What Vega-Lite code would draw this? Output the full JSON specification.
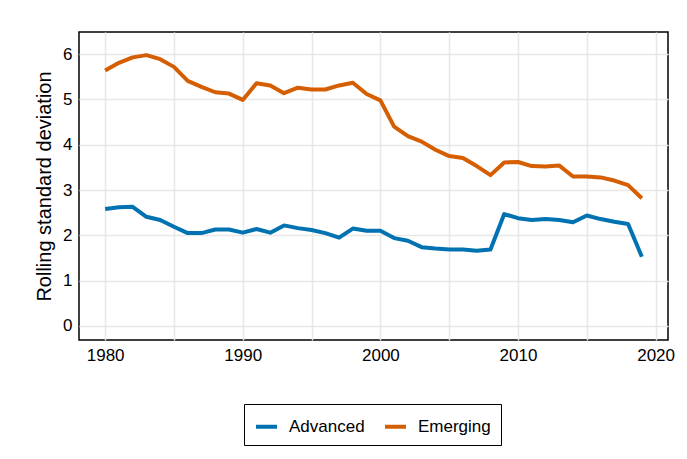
{
  "$schema": "https://vega.github.io/schema/vega-lite/v6.json",
  "autosize": "none",
  "width": 589,
  "height": 308,
  "padding": {"left": 79, "top": 32, "right": 19, "bottom": 119},
  "background": "white",
  "config": {
    "font": "Liberation Sans",
    "view": {"stroke": "black", "strokeWidth": 1.5}
  },
  "data": {
    "values": [
      {"year": 1980, "group": "Advanced", "sd": 2.58},
      {"year": 1981, "group": "Advanced", "sd": 2.62},
      {"year": 1982, "group": "Advanced", "sd": 2.63},
      {"year": 1983, "group": "Advanced", "sd": 2.41},
      {"year": 1984, "group": "Advanced", "sd": 2.34},
      {"year": 1985, "group": "Advanced", "sd": 2.19},
      {"year": 1986, "group": "Advanced", "sd": 2.05},
      {"year": 1987, "group": "Advanced", "sd": 2.05},
      {"year": 1988, "group": "Advanced", "sd": 2.13},
      {"year": 1989, "group": "Advanced", "sd": 2.13},
      {"year": 1990, "group": "Advanced", "sd": 2.06},
      {"year": 1991, "group": "Advanced", "sd": 2.14},
      {"year": 1992, "group": "Advanced", "sd": 2.06},
      {"year": 1993, "group": "Advanced", "sd": 2.22},
      {"year": 1994, "group": "Advanced", "sd": 2.16},
      {"year": 1995, "group": "Advanced", "sd": 2.12},
      {"year": 1996, "group": "Advanced", "sd": 2.05},
      {"year": 1997, "group": "Advanced", "sd": 1.95},
      {"year": 1998, "group": "Advanced", "sd": 2.15},
      {"year": 1999, "group": "Advanced", "sd": 2.10},
      {"year": 2000, "group": "Advanced", "sd": 2.10},
      {"year": 2001, "group": "Advanced", "sd": 1.94},
      {"year": 2002, "group": "Advanced", "sd": 1.88},
      {"year": 2003, "group": "Advanced", "sd": 1.74},
      {"year": 2004, "group": "Advanced", "sd": 1.71},
      {"year": 2005, "group": "Advanced", "sd": 1.69},
      {"year": 2006, "group": "Advanced", "sd": 1.69},
      {"year": 2007, "group": "Advanced", "sd": 1.66},
      {"year": 2008, "group": "Advanced", "sd": 1.69},
      {"year": 2009, "group": "Advanced", "sd": 2.47},
      {"year": 2010, "group": "Advanced", "sd": 2.38},
      {"year": 2011, "group": "Advanced", "sd": 2.34},
      {"year": 2012, "group": "Advanced", "sd": 2.36},
      {"year": 2013, "group": "Advanced", "sd": 2.34},
      {"year": 2014, "group": "Advanced", "sd": 2.29},
      {"year": 2015, "group": "Advanced", "sd": 2.44},
      {"year": 2016, "group": "Advanced", "sd": 2.36},
      {"year": 2017, "group": "Advanced", "sd": 2.30},
      {"year": 2018, "group": "Advanced", "sd": 2.25},
      {"year": 2019, "group": "Advanced", "sd": 1.53},
      {"year": 1980, "group": "Emerging", "sd": 5.64},
      {"year": 1981, "group": "Emerging", "sd": 5.81},
      {"year": 1982, "group": "Emerging", "sd": 5.93},
      {"year": 1983, "group": "Emerging", "sd": 5.98},
      {"year": 1984, "group": "Emerging", "sd": 5.89},
      {"year": 1985, "group": "Emerging", "sd": 5.72},
      {"year": 1986, "group": "Emerging", "sd": 5.41},
      {"year": 1987, "group": "Emerging", "sd": 5.28},
      {"year": 1988, "group": "Emerging", "sd": 5.16},
      {"year": 1989, "group": "Emerging", "sd": 5.13},
      {"year": 1990, "group": "Emerging", "sd": 4.99},
      {"year": 1991, "group": "Emerging", "sd": 5.36},
      {"year": 1992, "group": "Emerging", "sd": 5.31},
      {"year": 1993, "group": "Emerging", "sd": 5.14},
      {"year": 1994, "group": "Emerging", "sd": 5.26},
      {"year": 1995, "group": "Emerging", "sd": 5.22},
      {"year": 1996, "group": "Emerging", "sd": 5.22},
      {"year": 1997, "group": "Emerging", "sd": 5.31},
      {"year": 1998, "group": "Emerging", "sd": 5.37},
      {"year": 1999, "group": "Emerging", "sd": 5.12},
      {"year": 2000, "group": "Emerging", "sd": 4.98},
      {"year": 2001, "group": "Emerging", "sd": 4.40},
      {"year": 2002, "group": "Emerging", "sd": 4.19},
      {"year": 2003, "group": "Emerging", "sd": 4.07},
      {"year": 2004, "group": "Emerging", "sd": 3.89},
      {"year": 2005, "group": "Emerging", "sd": 3.75},
      {"year": 2006, "group": "Emerging", "sd": 3.71},
      {"year": 2007, "group": "Emerging", "sd": 3.53},
      {"year": 2008, "group": "Emerging", "sd": 3.33},
      {"year": 2009, "group": "Emerging", "sd": 3.61},
      {"year": 2010, "group": "Emerging", "sd": 3.62},
      {"year": 2011, "group": "Emerging", "sd": 3.53},
      {"year": 2012, "group": "Emerging", "sd": 3.52},
      {"year": 2013, "group": "Emerging", "sd": 3.54},
      {"year": 2014, "group": "Emerging", "sd": 3.30},
      {"year": 2015, "group": "Emerging", "sd": 3.30},
      {"year": 2016, "group": "Emerging", "sd": 3.28},
      {"year": 2017, "group": "Emerging", "sd": 3.21},
      {"year": 2018, "group": "Emerging", "sd": 3.11},
      {"year": 2019, "group": "Emerging", "sd": 2.82}
    ]
  },
  "mark": {"type": "line", "strokeWidth": 4, "strokeJoin": "round"},
  "encoding": {
    "x": {
      "field": "year",
      "type": "quantitative",
      "scale": {"domain": [1978.1, 2020.9], "nice": false, "zero": false},
      "axis": {
        "values": [1980, 1985, 1990, 1995, 2000, 2005, 2010, 2015, 2020],
        "labelExpr": "floor(datum.value / 10) * 10 == datum.value ? datum.label : ''",
        "format": "d",
        "title": null,
        "ticks": false,
        "domain": false,
        "labelFontSize": 17,
        "labelColor": "black",
        "labelPadding": 7,
        "grid": true,
        "gridColor": "#e8e8e8",
        "gridWidth": 1.5
      }
    },
    "y": {
      "field": "sd",
      "type": "quantitative",
      "scale": {"domain": [-0.31, 6.49], "nice": false, "zero": false},
      "axis": {
        "values": [0, 0.5, 1, 1.5, 2, 2.5, 3, 3.5, 4, 4.5, 5, 5.5, 6],
        "labelExpr": "floor(datum.value) == datum.value ? datum.label : ''",
        "format": "d",
        "title": "Rolling standard deviation",
        "titleFontSize": 20,
        "titleFontWeight": "normal",
        "titleColor": "black",
        "titlePadding": 8,
        "ticks": false,
        "domain": false,
        "labelFontSize": 17,
        "labelColor": "black",
        "labelPadding": 7,
        "grid": true,
        "gridColor": "#e8e8e8",
        "gridWidth": 1.5
      }
    },
    "color": {
      "field": "group",
      "type": "nominal",
      "scale": {"domain": ["Advanced", "Emerging"], "range": ["#0072B2", "#D55E00"]},
      "legend": {
        "title": null,
        "orient": "none",
        "legendX": 165,
        "legendY": 372,
        "direction": "horizontal",
        "symbolType": "stroke",
        "symbolStrokeWidth": 4,
        "symbolSize": 441,
        "labelFontSize": 17,
        "labelColor": "black",
        "labelOffset": 10,
        "columnPadding": 12,
        "padding": 10,
        "strokeColor": "black"
      }
    }
  }
}
